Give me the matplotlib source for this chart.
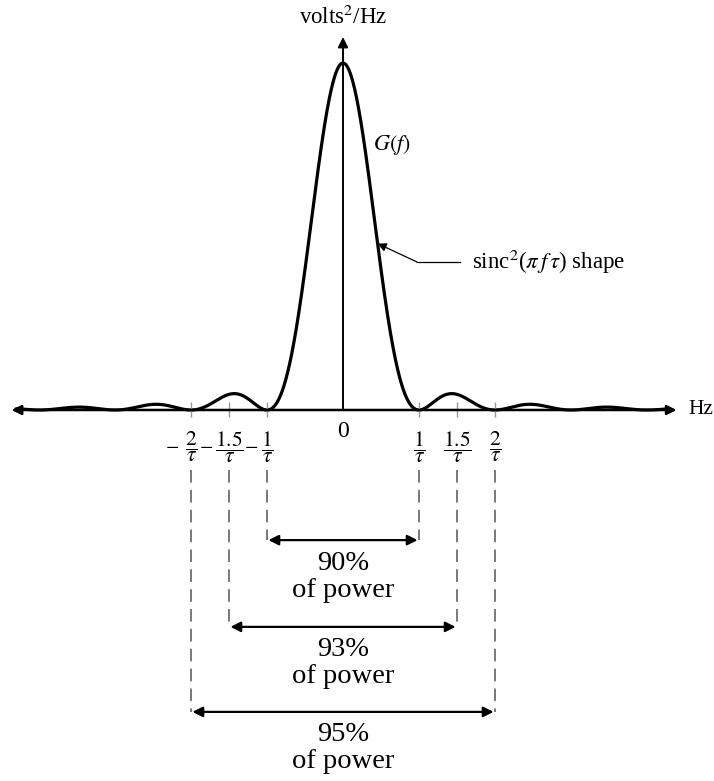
import numpy as np
import matplotlib
matplotlib.use("Agg")
import matplotlib.pyplot as plt

plt.rcParams['font.family'] = ['Liberation Serif', 'DejaVu Serif']
plt.rcParams['mathtext.fontset'] = 'stix'

# frequency in units of 1/tau
tick_pos = [-2, -1.5, -1, 0, 1, 1.5, 2]
tick_num = ["2", "1.5", "1", "0", "1", "1.5", "2"]
band_edges = [1, 1.5, 2]
band_power = ["90%", "93%", "95%"]
band_levels = [-0.375, -0.625, -0.870]

f = np.linspace(-4.3, 4.3, 2000)
G = np.sinc(f) ** 2   # sinc^2(pi f tau) shape

fig = plt.figure(figsize=(7.14, 7.81), dpi=100)
ax = fig.add_axes([0, 0, 1, 1])
ax.set_xlim(-343 / 76, (714 - 343) / 76)
ax.set_ylim((410 - 781) / 347, 410 / 347)
ax.axis('off')

# axes with arrows
ax.annotate('', xy=(4.39, 0), xytext=(-4.36, 0),
            arrowprops=dict(arrowstyle='<|-|>', mutation_scale=14, lw=1.8,
                            color='black', shrinkA=0, shrinkB=0))
ax.annotate('', xy=(0, 1.075), xytext=(0, 0),
            arrowprops=dict(arrowstyle='-|>', mutation_scale=15, lw=1.4,
                            color='black', shrinkA=0, shrinkB=0))
ax.text(4.54, 0, 'Hz', fontsize=15.5, ha='left', va='center')
ax.text(0, 1.13, r'volts$^2$/Hz', fontsize=16.5, ha='center', va='center')

ax.plot(f, G, color='black', lw=2.3, solid_capstyle='round')

# tick marks and labels
minus_off = {"2": 0.25, "1.5": 0.30, "1": 0.21}
for x, num in zip(tick_pos, tick_num):
    if x == 0:
        ax.text(0, -0.063, '0', fontsize=17, ha='center', va='center')
        continue
    ax.vlines(x, -0.02, 0.022, color='#999999', lw=1)
    ax.text(x, -0.107, r'$\dfrac{%s}{\tau}$' % num, fontsize=15.5,
            ha='center', va='center')
    if x < 0:
        ax.text(x - minus_off[num], -0.102, r'$-$', fontsize=14,
                ha='center', va='center')

# G(f) label and sinc^2 annotation
ax.text(0.395, 0.764, r'$G(f)$', fontsize=16, ha='left', va='center')
tip_x = 0.455
tail = (0.974, 0.4265)
ax.annotate('', xy=(tip_x, np.sinc(tip_x) ** 2), xytext=tail,
            arrowprops=dict(arrowstyle='-|>', mutation_scale=13, lw=0.9,
                            color='black', shrinkA=0, shrinkB=0))
ax.plot([tail[0], 1.54], [tail[1], tail[1]], color='black', lw=0.9)
ax.text(1.70, tail[1], r'sinc$^2$($\pi\,f\,\tau$) shape', fontsize=16.5,
        ha='left', va='center')

# power bands
for edge, label, lvl in zip(band_edges, band_power, band_levels):
    for s in (-1, 1):
        ax.plot([s * edge, s * edge], [-0.173, lvl], color='#6e6e6e', lw=1.3,
                linestyle=(0, (7, 4)))
    ax.annotate('', xy=(edge, lvl), xytext=(-edge, lvl),
                arrowprops=dict(arrowstyle='<|-|>', mutation_scale=15, lw=1.6,
                                color='black', shrinkA=1, shrinkB=1))
    ax.text(0, lvl - 0.066, label, fontsize=20.5, ha='center', va='center')
    ax.text(0, lvl - 0.144, 'of power', fontsize=20.5, ha='center', va='center')

fig.savefig('out.png', dpi=100)
